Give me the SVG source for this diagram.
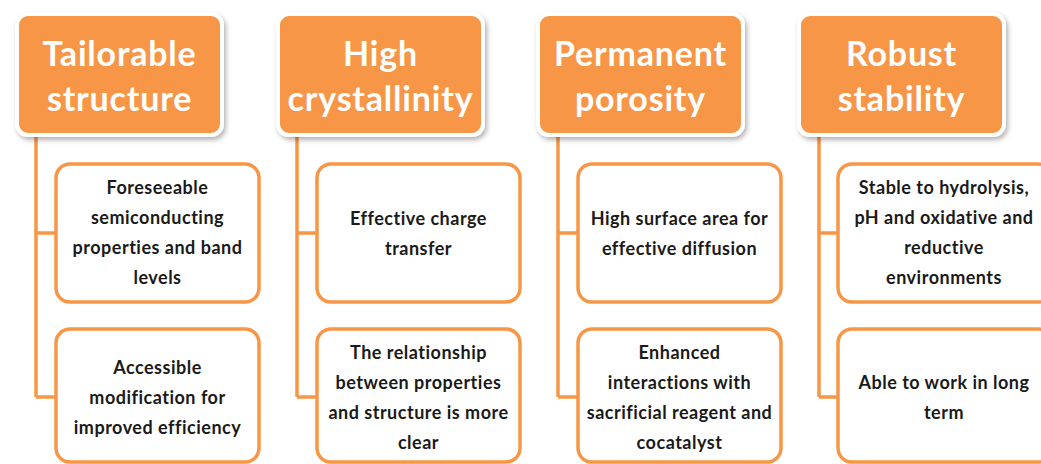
<svg xmlns="http://www.w3.org/2000/svg" width="1041" height="464" viewBox="0 0 1041 464">
<defs>
<filter id="sh" x="-10%" y="-10%" width="125%" height="130%">
<feDropShadow dx="2" dy="3" stdDeviation="2.5" flood-color="#000" flood-opacity="0.3"/>
</filter>
<style>
.hd{fill:#F79646;stroke:#fff;stroke-width:4;filter:url(#sh)}
.ht{font-family:Lato,"Open Sans",sans-serif;font-weight:700;font-size:34px;letter-spacing:0.8px;fill:#fff;text-anchor:middle}
.bx{fill:#fff;stroke:#F79646;stroke-width:3.5}
.bt{font-family:Lato,"Open Sans",sans-serif;font-weight:700;font-size:18px;letter-spacing:0.5px;fill:#1a1a1a;text-anchor:middle}
.cn{fill:none;stroke:#F79646;stroke-width:3.5}
</style>
</defs>
<rect width="1041" height="464" fill="#fff"/>
<g id="connectors">
<path class="cn" d="M36 137V397M36 233H56M36 397H56"/>
<path class="cn" d="M297 137V397M297 233H317M297 397H317"/>
<path class="cn" d="M558 137V397M558 233H578M558 397H578"/>
<path class="cn" d="M819 137V397M819 233H838M819 397H838"/>
</g>
<g id="h1"><rect class="hd" x="17" y="14" width="205" height="121" rx="11"/>
<text class="ht" x="119.5" y="66">Tailorable</text><text class="ht" x="119.5" y="111">structure</text></g>
<g id="h2"><rect class="hd" x="278" y="14" width="205" height="121" rx="11"/>
<text class="ht" x="380.5" y="66">High</text><text class="ht" x="380.5" y="111">crystallinity</text></g>
<g id="h3"><rect class="hd" x="538" y="14" width="205" height="121" rx="11"/>
<text class="ht" x="640.5" y="66">Permanent</text><text class="ht" x="640.5" y="111">porosity</text></g>
<g id="h4"><rect class="hd" x="799" y="14" width="205" height="121" rx="11"/>
<text class="ht" x="901.5" y="66">Robust</text><text class="ht" x="901.5" y="111">stability</text></g>

<g id="c1a"><rect class="bx" x="56" y="164" width="203" height="138" rx="14"/>
<text class="bt" x="157.5" y="194">Foreseeable</text><text class="bt" x="157.5" y="224">semiconducting</text><text class="bt" x="157.5" y="254">properties and band</text><text class="bt" x="157.5" y="284">levels</text></g>
<g id="c1b"><rect class="bx" x="56" y="329" width="203" height="133" rx="14"/>
<text class="bt" x="157.5" y="374">Accessible</text><text class="bt" x="157.5" y="404">modification for</text><text class="bt" x="157.5" y="434">improved efficiency</text></g>

<g id="c2a"><rect class="bx" x="317" y="164" width="203" height="138" rx="14"/>
<text class="bt" x="418.5" y="225">Effective charge</text><text class="bt" x="418.5" y="255">transfer</text></g>
<g id="c2b"><rect class="bx" x="317" y="329" width="203" height="133" rx="14"/>
<text class="bt" x="418.5" y="359">The relationship</text><text class="bt" x="418.5" y="389">between properties</text><text class="bt" x="418.5" y="419">and structure is more</text><text class="bt" x="418.5" y="449">clear</text></g>

<g id="c3a"><rect class="bx" x="578" y="164" width="203" height="138" rx="14"/>
<text class="bt" x="679.5" y="225">High surface area for</text><text class="bt" x="679.5" y="255">effective diffusion</text></g>
<g id="c3b"><rect class="bx" x="578" y="329" width="203" height="133" rx="14"/>
<text class="bt" x="679.5" y="359">Enhanced</text><text class="bt" x="679.5" y="389">interactions with</text><text class="bt" x="679.5" y="419">sacrificial reagent and</text><text class="bt" x="679.5" y="449">cocatalyst</text></g>

<g id="c4a"><rect class="bx" x="838" y="164" width="214" height="138" rx="14"/>
<text class="bt" x="944" y="194">Stable to hydrolysis,</text><text class="bt" x="944" y="224">pH and oxidative and</text><text class="bt" x="944" y="254">reductive</text><text class="bt" x="944" y="284">environments</text></g>
<g id="c4b"><rect class="bx" x="838" y="329" width="214" height="133" rx="14"/>
<text class="bt" x="944" y="389">Able to work in long</text><text class="bt" x="944" y="419">term</text></g>
</svg>
